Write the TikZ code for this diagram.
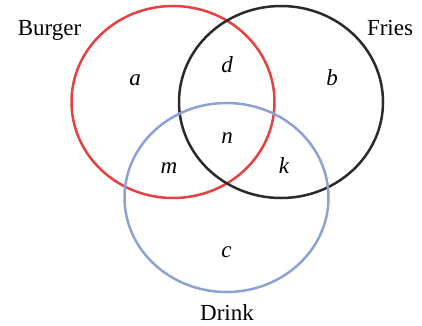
\documentclass[tikz,border=0pt]{standalone}
\usepackage{fontspec}
\setmainfont{Liberation Serif}
\definecolor{vred}{RGB}{232,64,64}
\definecolor{vblack}{RGB}{42,42,40}
\definecolor{vblue}{RGB}{140,162,214}
\begin{document}
\begin{tikzpicture}[x=1pt,y=-1pt,
  setring/.style={line width=2.5pt},
  setname/.style={anchor=base,inner sep=0pt,font=\fontsize{23}{27}\selectfont},
  region/.style={anchor=base,inner sep=0pt,font=\fontsize{23}{27}\selectfont\itshape}]
\useasboundingbox (0,0) rectangle (422,325);
\draw[setring,vred] (173,102) ellipse [x radius=101.5, y radius=96];
\draw[setring,vblack] (281,102) ellipse [x radius=102, y radius=96];
\draw[setring,vblue] (226.5,197.5) ellipse [x radius=102, y radius=94.5];
\node[setname] (burger) at (49.5,35) {Burger};
\node[setname] (fries) at (390,35) {Fries};
\node[setname] (drink) at (227,320) {\strut Drink};
\node[region] (a) at (135,85) {a};
\node[region] (d) at (227,72) {d};
\node[region] (b) at (332,85) {b};
\node[region] (n) at (227,143) {n};
\node[region] (m) at (169,173) {m};
\node[region] (k) at (284,173) {k};
\node[region] (c) at (226.5,257) {c};
\end{tikzpicture}
\end{document}
